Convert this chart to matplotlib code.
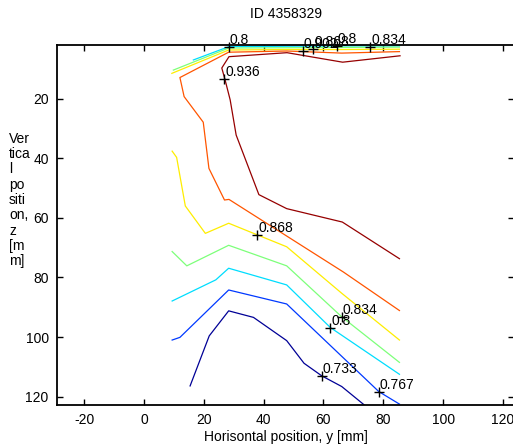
import matplotlib
matplotlib.use('Agg')
import matplotlib.pyplot as plt
import numpy as np

plt.rcParams['font.family'] = ['Liberation Sans', 'DejaVu Sans']
plt.rcParams['axes.unicode_minus'] = False

titulo = 'ID 4358329'
niveis = [0.733, 0.767, 0.8, 0.834, 0.868, 0.902, 0.936]

# contour lines: horizontal position y [mm], vertical z [mm]
y_733 = [15.4, 21.8, 28.3, 36.6, 47.7, 53.5, 59.4, 66.1, 73.9]
z_733 = [116.4, 99.6, 91.2, 93.4, 101.2, 108.8, 113.0, 116.6, 123.0]

y_767 = [9.4, 12.0, 28.3, 47.7, 78.5, 85.4]
z_767 = [101.0, 100.1, 84.2, 88.9, 118.3, 122.5]

y_800a = [9.4, 24.0, 28.3, 47.7, 62.3, 85.4]
z_800a = [87.9, 80.8, 76.9, 82.5, 96.8, 112.5]
y_800b = [16.5, 28.3, 47.7, 66.1, 85.4]
z_800b = [7.0, 2.55, 2.4, 2.3, 2.3]

y_834a = [9.4, 14.3, 28.3, 47.7, 66.1, 85.4]
z_834a = [71.3, 76.1, 69.2, 76.1, 93.2, 108.5]
y_834b = [9.8, 28.3, 47.7, 66.1, 85.4]
z_834b = [10.4, 3.0, 2.9, 2.8, 2.7]

y_868a = [9.4, 10.9, 13.8, 20.5, 28.3, 47.7, 66.1, 85.4]
z_868a = [37.6, 39.7, 56.0, 65.2, 61.8, 69.7, 85.3, 101.0]
y_868b = [9.3, 28.3, 47.7, 66.1, 85.4]
z_868b = [11.5, 3.66, 3.5, 3.5, 3.4]

y_902 = [85.4, 66.1, 47.7, 28.3, 12.0, 13.4, 19.8, 21.7, 26.9, 28.4, 66.7, 85.4]
z_902 = [4.2, 4.7, 4.0, 4.4, 12.9, 19.3, 27.9, 43.4, 54.0, 53.8, 78.2, 91.1]

y_936 = [85.6, 66.4, 47.8, 28.4, 26.0, 27.1, 28.8, 30.8, 38.4, 47.7, 66.3, 85.4]
z_936 = [5.6, 7.75, 4.56, 5.9, 9.7, 13.7, 20.4, 32.2, 52.2, 56.9, 61.4, 73.7]

curvas = [
    (0, y_733, z_733), (1, y_767, z_767),
    (2, y_800a, z_800a), (2, y_800b, z_800b),
    (3, y_834a, z_834a), (3, y_834b, z_834b),
    (4, y_868a, z_868a), (4, y_868b, z_868b),
    (5, y_902, z_902), (6, y_936, z_936),
]

# contour labels (clabel style: '+' plus text)
rot_y = [26.9, 37.9, 66.1, 62.3, 59.4, 78.5, 28.3, 53.1, 56.6, 64.4, 75.6]
rot_z = [13.4, 65.7, 93.2, 96.8, 113.0, 118.3, 2.55, 4.0, 3.3, 2.3, 2.7]
rot_txt = ['0.936', '0.868', '0.834', '0.8', '0.733', '0.767',
           '0.8', '0.902', '0.868', '0.8', '0.834']

cores = plt.cm.jet(np.linspace(0.02, 0.98, len(niveis)))

fig = plt.figure(figsize=(5.13, 4.46), dpi=100)
ax = fig.add_axes([57 / 513, 41 / 446, 457 / 513, 359.5 / 446])

for i, ys, zs in curvas:
    ax.plot(ys, zs, color=cores[i], lw=0.9)

ax.plot(rot_y, rot_z, '+', color='black', ms=7, mew=1, clip_on=False)
for y, z, t in zip(rot_y, rot_z, rot_txt):
    ax.text(y + 0.3, z, t, ha='left', va='bottom', fontsize=10, clip_on=False)

ax.set_xlim(-29.1, 123.7)
ax.set_ylim(122.8, 2.15)
ax.set_xticks(np.arange(-20, 121, 20))
ax.set_yticks(np.arange(20, 121, 20))
ax.tick_params(direction='in', top=True, right=True, length=4, width=1,
               labelsize=10, pad=6)
for s in ax.spines.values():
    s.set_linewidth(1.3)

ax.set_title(titulo, fontsize=10, pad=20)
ax.set_xlabel('Horisontal position, y [mm]', fontsize=10, labelpad=2)
fig.text(9 / 513, 1 - 200 / 446, 'Ver\ntica\nl\npo\nsiti\non,\nz\n[m\nm]',
         ha='left', va='center', fontsize=10, linespacing=1.12)

fig.savefig('out.png', dpi=100)
